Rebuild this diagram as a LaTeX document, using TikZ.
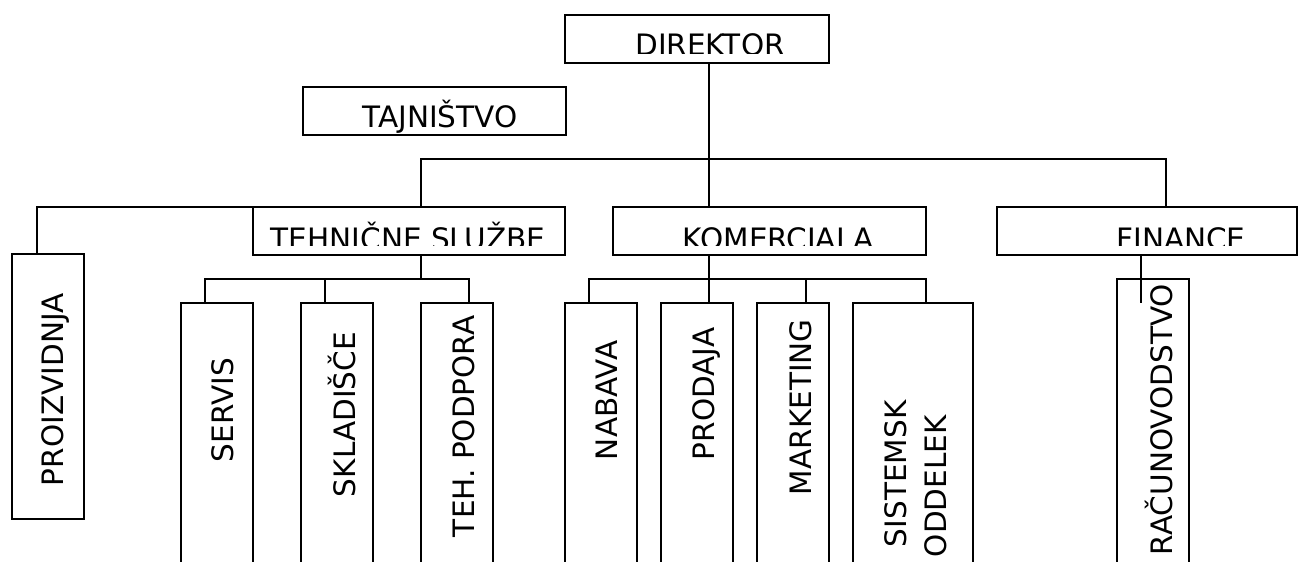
\documentclass[tikz,border=0pt]{standalone}
\usepackage{fontspec}
\setmainfont{DejaVu Sans}
\begin{document}
\begin{tikzpicture}[x=1pt,y=-1pt,
  box/.style={draw,line width=1.5pt,inner sep=0pt,outer sep=0pt,rectangle,anchor=north west},
  lab/.style={inner sep=0pt,outer sep=0pt,font=\fontsize{29.5}{34}\selectfont},
  hlab/.style={lab,anchor=base},
  vlab/.style={lab,rotate=90,anchor=base west},
  conn/.style={line width=1.5pt}]
\clip (0,0) rectangle (1301,562);
\fill[white] (0,0) rectangle (1301,562);
% boxes
\node[box,minimum width=264pt,minimum height=48pt] (dir) at (565,15) {};
\node[box,minimum width=263pt,minimum height=48pt] (taj) at (303,87) {};
\node[box,minimum width=312pt,minimum height=48pt] (teh) at (253,207) {};
\node[box,minimum width=313pt,minimum height=48pt] (kom) at (613,207) {};
\node[box,minimum width=300pt,minimum height=48pt] (fin) at (997,207) {};
\node[box,minimum width=72pt,minimum height=265pt] (pro) at (12,254) {};
\node[box,minimum width=72pt,minimum height=290pt] (ser) at (181,303) {};
\node[box,minimum width=72pt,minimum height=290pt] (skl) at (301,303) {};
\node[box,minimum width=72pt,minimum height=290pt] (pod) at (421,303) {};
\node[box,minimum width=72pt,minimum height=290pt] (nab) at (565,303) {};
\node[box,minimum width=72pt,minimum height=290pt] (prd) at (661,303) {};
\node[box,minimum width=72pt,minimum height=290pt] (mar) at (757,303) {};
\node[box,minimum width=120pt,minimum height=290pt] (sis) at (853,303) {};
\node[box,minimum width=72pt,minimum height=314pt] (rac) at (1117,279) {};
% horizontal labels (clipped at the bottom as in the original)
\begin{scope}
\clip (565,15) rectangle (829,53);
\node[hlab] (tdir) at (710,55) {DIREKTOR};
\end{scope}
\node[hlab] (ttaj) at (440,127) {TAJNIŠTVO};
\begin{scope}
\clip (253,207) rectangle (1297,245);
\node[hlab] (tteh) at (408,249) {TEHNIČNE SLUŽBE};
\node[hlab] (tkom) at (778,249) {KOMERCIALA};
\node[hlab] (tfin) at (1181,249) {FINANCE};
\end{scope}
% vertical labels
\node[vlab] (tpro) at (63,486) {PROIZVIDNJA};
\node[vlab] (tser) at (233,462) {SERVIS};
\node[vlab] (tskl) at (355,497) {SKLADIŠČE};
\node[vlab] (tpod) at (474,537) {TEH. PODPORA};
\node[vlab] (tnab) at (617,460) {NABAVA};
\node[vlab] (tprd) at (714,460) {PRODAJA};
\node[vlab] (tmar) at (811,495) {MARKETING};
\node[vlab] (tsis) at (906,547) {SISTEMSK};
\node[vlab] (todd) at (946,557) {ODDELEK};
\node[vlab] (trac) at (1172,555) {RAČUNOVODSTVO};
% junction coordinates
\coordinate (dirout) at (709,63);
\coordinate (bus) at (709,159);
\coordinate (komin) at (709,207);
\coordinate (jteh) at (421,207);
\coordinate (jfin) at (1166,207);
\coordinate (jpro) at (37,254);
\coordinate (tehout) at (421,255);
\coordinate (tehbus) at (421,279);
\coordinate (ser1) at (205,303);
\coordinate (skl1) at (325,303);
\coordinate (pod1) at (469,303);
\coordinate (komout) at (709,255);
\coordinate (kombus) at (709,279);
\coordinate (nab1) at (589,303);
\coordinate (prd1) at (709,303);
\coordinate (mar1) at (806,303);
\coordinate (sis1) at (926,303);
\coordinate (finout) at (1141,255);
\coordinate (racin) at (1141,303);
% connectors
\draw[conn] (dirout) -- (komin);
\draw[conn] (jteh) |- (bus) -| (jfin);
\draw[conn] (jpro) |- (teh.north west);
\draw[conn] (tehout) -- (tehbus);
\draw[conn] (ser1) |- (tehbus) -| (pod1);
\draw[conn] (skl1) -- (skl1 |- tehbus);
\draw[conn] (komout) -- (prd1);
\draw[conn] (nab1) |- (kombus) -| (sis1);
\draw[conn] (mar1) -- (mar1 |- kombus);
\draw[conn] (finout) -- (racin);
\end{tikzpicture}
\end{document}
